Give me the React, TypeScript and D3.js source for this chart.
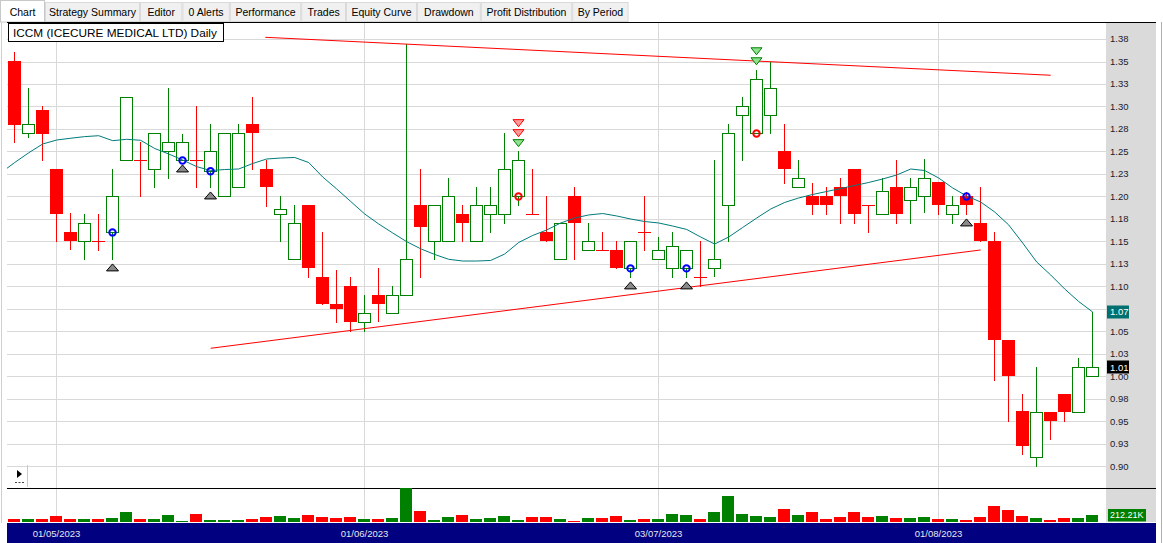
import React from "react";
import * as d3 from "d3";

// ---------------- data ----------------
const opens = [1.351, 1.27, 1.296, 1.23, 1.16, 1.15, 1.15, 1.16, 1.24, 1.24, 1.23, 1.25, 1.24, 1.24, 1.228, 1.2, 1.21, 1.28, 1.23, 1.18,
  1.13, 1.19, 1.11, 1.08, 1.1, 1.06, 1.09, 1.07, 1.09, 1.19, 1.15, 1.15, 1.18, 1.15, 1.18, 1.18, 1.2, 1.18, 1.16, 1.13,
  1.2, 1.14, 1.14, 1.14, 1.12, 1.16, 1.13, 1.12, 1.12, 1.11, 1.12, 1.19, 1.29, 1.27, 1.29, 1.25, 1.21, 1.2, 1.2, 1.21,
  1.23, 1.19, 1.18, 1.21, 1.196, 1.2, 1.216, 1.18, 1.2, 1.17, 1.15, 1.04, 0.961, 0.91, 0.96, 0.98, 0.96, 1.0];
const highs = [1.361, 1.32, 1.3, 1.23, 1.182, 1.18, 1.18, 1.23, 1.31, 1.26, 1.27, 1.32, 1.269, 1.3, 1.28, 1.27, 1.28, 1.31, 1.241, 1.2,
  1.19, 1.19, 1.16, 1.118, 1.11, 1.09, 1.12, 1.1, 1.37, 1.23, 1.19, 1.22, 1.19, 1.21, 1.21, 1.271, 1.25, 1.23, 1.2, 1.17,
  1.21, 1.17, 1.16, 1.15, 1.15, 1.2, 1.155, 1.16, 1.14, 1.15, 1.24, 1.28, 1.31, 1.341, 1.35, 1.28, 1.24, 1.215, 1.21, 1.22,
  1.23, 1.19, 1.22, 1.24, 1.22, 1.242, 1.216, 1.2, 1.205, 1.21, 1.161, 1.04, 0.98, 1.01, 0.96, 0.98, 1.02, 1.0715];
const lows = [1.26, 1.266, 1.24, 1.15, 1.142, 1.13, 1.14, 1.13, 1.24, 1.2, 1.21, 1.22, 1.24, 1.21, 1.21, 1.2, 1.21, 1.23, 1.189, 1.15,
  1.13, 1.11, 1.08, 1.06, 1.05, 1.05, 1.062, 1.07, 1.09, 1.11, 1.13, 1.15, 1.15, 1.15, 1.16, 1.171, 1.19, 1.18, 1.15, 1.13,
  1.13, 1.14, 1.14, 1.12, 1.11, 1.14, 1.13, 1.11, 1.11, 1.1, 1.111, 1.15, 1.24, 1.27, 1.27, 1.215, 1.21, 1.18, 1.18, 1.17,
  1.17, 1.16, 1.18, 1.17, 1.17, 1.183, 1.18, 1.17, 1.18, 1.15, 0.996, 0.95, 0.914, 0.9, 0.93, 0.95, 0.96, 1.0];
const closes = [1.279, 1.28, 1.269, 1.18, 1.15, 1.17, 1.15, 1.2, 1.31, 1.24, 1.27, 1.26, 1.26, 1.24, 1.25, 1.27, 1.27, 1.27, 1.21, 1.186,
  1.17, 1.12, 1.08, 1.075, 1.06, 1.07, 1.08, 1.09, 1.13, 1.166, 1.19, 1.2, 1.17, 1.19, 1.19, 1.23, 1.24, 1.18, 1.15, 1.17,
  1.17, 1.15, 1.14, 1.12, 1.15, 1.16, 1.14, 1.145, 1.14, 1.11, 1.13, 1.27, 1.3, 1.33, 1.32, 1.23, 1.22, 1.19, 1.19, 1.2,
  1.18, 1.19, 1.206, 1.18, 1.21, 1.22, 1.19, 1.19, 1.19, 1.15, 1.04, 1.0, 0.923, 0.96, 0.95, 0.96, 1.01, 1.01];
// volume in thousands of shares
const volumesK = [98, 98, 98, 186, 98, 98, 98, 127, 274, 98, 98, 216, 39, 245, 69, 69, 69, 98, 157, 186,
  127, 216, 157, 127, 157, 98, 98, 127, 980, 304, 69, 157, 216, 98, 127, 186, 69, 157, 157, 98,
  39, 125, 125, 182, 67, 96, 96, 240, 211, 96, 298, 758, 240, 182, 154, 384, 211, 298, 96, 154,
  298, 154, 182, 125, 125, 154, 96, 96, 67, 154, 470, 355, 182, 125, 67, 125, 125, 212.21];
// moving average, first value belongs to the bar just before the visible window
const maValues = [1.2261, 1.2377, 1.2485, 1.2583, 1.2627, 1.2647, 1.2665, 1.2675, 1.262, 1.2635, 1.2624, 1.2533, 1.2472, 1.2405, 1.2331, 1.2288,
  1.2299, 1.2305, 1.2366, 1.2416, 1.2427, 1.2433, 1.2377, 1.2216, 1.2083, 1.1944, 1.1805, 1.1694, 1.1594, 1.1497, 1.1418,
  1.1355, 1.1301, 1.1282, 1.1282, 1.1288, 1.136, 1.1488, 1.1566, 1.1627, 1.1705, 1.176, 1.1794, 1.181, 1.1783, 1.1749,
  1.1721, 1.1705, 1.1671, 1.1633, 1.1549, 1.1471, 1.1549, 1.1655, 1.176, 1.186, 1.1933, 1.1983, 1.2022, 1.2055, 1.2088,
  1.2122, 1.2155, 1.2194, 1.2238, 1.2305, 1.2288, 1.2205, 1.2094, 1.2005, 1.1938, 1.1827, 1.1683, 1.1482, 1.1271, 1.1127,
  1.0971, 1.0832, 1.0715];
const dateTickIndex = [3, 25, 46, 66];
const dateTickLabels = ["01/05/2023", "01/06/2023", "03/07/2023", "01/08/2023"];
const priceTicks = [0.9, 0.925, 0.95, 0.975, 1.0, 1.025, 1.05, 1.075, 1.1, 1.125, 1.15, 1.175, 1.2, 1.225, 1.25, 1.275, 1.3, 1.325, 1.35, 1.375];
const priceTickLabels = ["0.90", "0.93", "0.95", "0.98", "1.00", "1.03", "1.05", "1.08", "1.10", "1.13", "1.15", "1.18", "1.20", "1.23", "1.25", "1.28", "1.30", "1.33", "1.35", "1.38"];
const upperTrendIdx = [17.9, 74];
const upperTrendPrice = [1.3769, 1.3347];
const lowerTrendIdx = [14, 69];
const lowerTrendPrice = [1.0312, 1.1405];
const entryIdx = [7, 12, 14, 44, 48, 68];
const entryPrice = [1.16, 1.24, 1.228, 1.12, 1.12, 1.2];
const exitIdx = [36, 53];
const exitPrice = [1.2, 1.27];
const arrowIdx = [36, 36, 36, 53, 53];
const arrowKind = ["green", "red", "red", "green", "green"];
const tabs = ["Chart", "Strategy Summary", "Editor", "0 Alerts", "Performance", "Trades", "Equity Curve", "Drawdown", "Profit Distribution", "By Period"];
const title = "ICCM (ICECURE MEDICAL LTD) Daily";
const maLabel = "1.07";
const closeLabel = "1.01";
const volLabel = "212.21K";

// ---------------- layout ----------------
const W = 1163, H = 543;
const PL = 7, PR = 1106, AXR = 1156;
const TOP = 22, VTOP = 488, VBOT = 522;
const tabWidths = [45, 95, 42.4, 47.4, 71.4, 44.8, 71, 63.8, 91.4, 56.4];
const GREEN = "#008000", RED = "#ff0000", GRID = "#d9d9d9";
const FONT = "'Liberation Sans', Arial, sans-serif";

export default function App() {
  const n = closes.length;
  const xC = d3.scaleLinear().domain([0, 77]).range([14.7, 1092.7]);
  const y = d3.scaleLinear().domain([0.9, 1.35]).range([466.3, 61.5]);
  const yv = d3.scaleLinear().domain([0, 980]).range([VBOT, VTOP]);

  const maLine = d3.line<number>().x((_, k) => xC(k - 1)).y((v) => y(v));
  const upLine = d3.line<number>().x((_, k) => xC(upperTrendIdx[k])).y((v) => y(v));
  const loLine = d3.line<number>().x((_, k) => xC(lowerTrendIdx[k])).y((v) => y(v));

  let acc = 0;
  const tabEls = tabs.map((t, k) => {
    const x0 = acc;
    const w = tabWidths[k];
    acc += w;
    const sel = k === 0;
    return (
      <g key={t}>
        <rect x={x0 + 0.5} y={sel ? 0.5 : 2.5} width={w - 1} height={sel ? 21.5 : 19} fill={sel ? "#ffffff" : "#f0f0f0"} stroke={sel ? "#c8c8c8" : "#d9d9d9"} />
        <text x={x0 + w / 2} y={15.5} textAnchor="middle" fontSize={10.5} fontFamily={FONT} fill="#000">{t}</text>
      </g>
    );
  });

  const candles = d3.range(n).map((i) => {
    const c = Math.floor(xC(i));
    const o = opens[i], cl = closes[i];
    const up = cl > o;
    const yt = Math.round(y(Math.max(o, cl)));
    const yb = Math.round(y(Math.min(o, cl)));
    const yh = Math.round(y(highs[i]));
    const yl = Math.round(y(lows[i]));
    const col = up ? GREEN : RED;
    return (
      <g key={i}>
        <line x1={c + 0.5} x2={c + 0.5} y1={yh} y2={yl + 1} stroke={col} />
        {up ? (
          <rect x={c - 5.5} y={yt + 0.5} width={12} height={Math.max(1, yb - yt)} fill="#fff" stroke={GREEN} />
        ) : yb - yt < 1 ? (
          <line x1={c - 6} x2={c + 7} y1={yt + 0.5} y2={yt + 0.5} stroke={RED} />
        ) : (
          <rect x={c - 6} y={yt} width={13} height={yb - yt} fill={RED} />
        )}
      </g>
    );
  });

  const vols = d3.range(n).map((i) => {
    const c = Math.floor(xC(i));
    const up = closes[i] > opens[i];
    const yt = Math.round(yv(volumesK[i]));
    return <rect key={i} x={c - 6} y={yt} width={12} height={VBOT - yt} fill={up ? GREEN : RED} />;
  });

  const arrowCount: Record<number, number> = {};
  const arrows = arrowIdx.map((i, k) => {
    const m = arrowCount[i] || 0;
    arrowCount[i] = m + 1;
    const cx = Math.floor(xC(i)) + 0.5;
    const cy = y(highs[i]) - 8.3 - 10 * m;
    const g = arrowKind[k] === "green";
    return (
      <path key={k} d={`M${cx - 5.5},${cy - 3.5}L${cx + 5.5},${cy - 3.5}L${cx},${cy + 3.5}Z`} fill={g ? "#8fe08f" : "#ff9a9a"} stroke={g ? GREEN : RED} strokeWidth={1} />
    );
  });

  const lastMa = maValues[maValues.length - 1];
  const lastClose = closes[n - 1];
  const lastVol = volumesK[n - 1];
  const maY = y(lastMa);

  return (
    <svg width={W} height={H} style={{ position: "absolute", left: 0, top: 0, display: "block" }} xmlns="http://www.w3.org/2000/svg">
      <defs>
        <clipPath id="plotClip">
          <rect x={PL} y={TOP} width={PR - PL} height={VTOP - TOP} />
        </clipPath>
      </defs>
      <rect x={0} y={0} width={W} height={H} fill="#ffffff" />
      {tabEls}
      {/* axis panel */}
      <rect x={PR} y={TOP} width={AXR - PR} height={VBOT - TOP} fill="#dadada" />
      <line x1={1161.5} x2={1161.5} y1={TOP} y2={H} stroke="#b0b0b0" />
      <line x1={1.5} x2={1.5} y1={TOP} y2={523} stroke="#d0d0d0" />
      {/* gridlines */}
      {priceTicks.map((p) => (
        <line key={p} x1={PL} x2={PR} y1={Math.round(y(p)) + 0.5} y2={Math.round(y(p)) + 0.5} stroke={GRID} />
      ))}
      {dateTickIndex.map((i) => (
        <line key={i} x1={Math.floor(xC(i)) + 0.5} x2={Math.floor(xC(i)) + 0.5} y1={TOP} y2={VBOT} stroke={GRID} />
      ))}
      <line x1={PL} x2={AXR} y1={TOP + 0.5} y2={TOP + 0.5} stroke="#000" />
      <line x1={PL} x2={AXR} y1={VTOP + 0.5} y2={VTOP + 0.5} stroke="#000" />
      {/* volume */}
      {vols}
      {/* price */}
      <g clipPath="url(#plotClip)">
        {candles}
        <path d={maLine(maValues) || ""} fill="none" stroke="#007b7b" strokeWidth={1} />
        <path d={upLine(upperTrendPrice) || ""} fill="none" stroke={RED} strokeWidth={1} />
        <path d={loLine(lowerTrendPrice) || ""} fill="none" stroke={RED} strokeWidth={1} />
        {entryIdx.map((i, k) => (
          <circle key={"e" + k} cx={Math.floor(xC(i)) + 0.5} cy={y(entryPrice[k])} r={3.2} fill="none" stroke="#0000ff" strokeWidth={2} />
        ))}
        {exitIdx.map((i, k) => (
          <circle key={"x" + k} cx={Math.floor(xC(i)) + 0.5} cy={y(exitPrice[k])} r={3.2} fill="none" stroke={RED} strokeWidth={2} />
        ))}
        {entryIdx.map((i, k) => {
          const cx = Math.floor(xC(i)) + 0.5;
          const cy = y(lows[i]) + 8;
          return <path key={"t" + k} d={`M${cx - 6},${cy + 3.5}L${cx + 6},${cy + 3.5}L${cx},${cy - 3.5}Z`} fill="#8a8a8a" stroke="#000" strokeWidth={1} />;
        })}
        {arrows}
      </g>
      {/* legend */}
      <rect x={8.5} y={23.5} width={215} height={18} fill="#fff" stroke="#000" />
      <text x={13} y={37} fontSize={11.8} fontFamily={FONT} fill="#000">{title}</text>
      {/* right axis labels (the one hidden under the moving-average marker is skipped) */}
      {priceTicks.map((p, k) =>
        Math.abs(y(p) - maY) < 8 ? null : (
          <text key={p} x={1110} y={y(p)} dy="0.35em" fontSize={9.5} fontFamily={FONT} fill="#1a1a2a">{priceTickLabels[k]}</text>
        )
      )}
      <rect x={1107} y={Math.round(maY) - 6.5} width={22} height={13} fill="#007070" />
      <text x={1110} y={maY} dy="0.35em" fontSize={9.5} fontFamily={FONT} fill="#fff">{maLabel}</text>
      <rect x={1107} y={Math.round(y(lastClose)) - 6.5} width={22} height={13} fill="#000" />
      <text x={1110} y={y(lastClose)} dy="0.35em" fontSize={9.5} fontFamily={FONT} fill="#fff">{closeLabel}</text>
      <rect x={1108} y={Math.round(yv(lastVol)) - 6} width={38} height={12.5} fill={GREEN} />
      <text x={1110} y={yv(lastVol)} dy="0.38em" fontSize={9} fontFamily={FONT} fill="#fff">{volLabel}</text>
      {/* small play box */}
      <line x1={27.5} x2={27.5} y1={465} y2={487} stroke="#c8c8c8" />
      <path d="M17,470L22,474L17,478Z" fill="#000" />
      <line x1={15} x2={25} y1={482.5} y2={482.5} stroke="#444" strokeDasharray="2,1.5" />
      {/* date axis */}
      <rect x={PL} y={523} width={1149} height={H - 523} fill="#000080" />
      {dateTickIndex.map((i, k) => (
        <text key={i} x={Math.floor(xC(i)) + 0.5} y={537} textAnchor="middle" fontSize={9.5} fontFamily={FONT} fill="#e8e8f0">{dateTickLabels[k]}</text>
      ))}
    </svg>
  );
}
